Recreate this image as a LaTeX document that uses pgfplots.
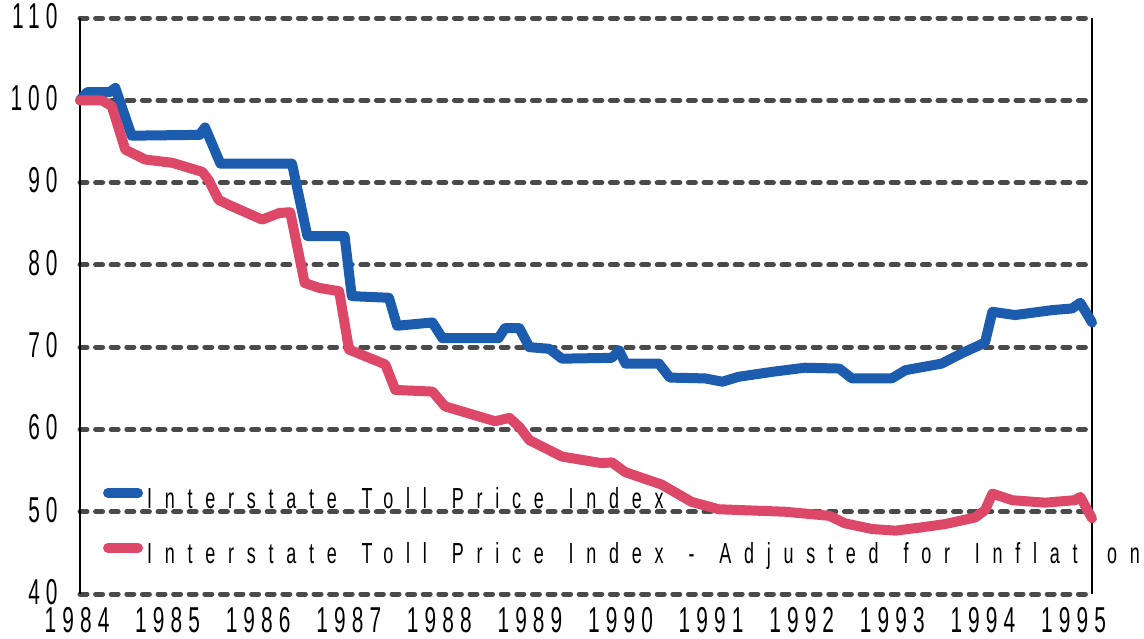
\documentclass[border=0pt]{standalone}
\usepackage{fontspec}
\setmainfont{Liberation Sans}
\usepackage{pgfplots}
\pgfplotsset{compat=1.18}

% narrow, widely tracked faces for the tick labels and the legend
\newfontfamily\tickfont[FakeStretch=0.58,LetterSpace=17]{Liberation Sans}
\newfontfamily\legfont[FakeStretch=0.62,LetterSpace=44,WordSpace=1.4]{Liberation Sans}

\definecolor{tollblue}{HTML}{1B5CAE}
\definecolor{tollred}{HTML}{DE4868}
\definecolor{gridgray}{HTML}{4A4A4A}

\begin{document}
\begin{tikzpicture}
\useasboundingbox (-40pt,-22pt) rectangle (532pt,297pt);
\begin{axis}[
  at={(0,0)}, anchor=south west,
  width=506pt, height=288pt, scale only axis,
  xmin=1984, xmax=1995.17, ymin=40, ymax=110,
  xtick={1984,...,1995}, ytick={40,50,...,110},
  xticklabel={\pgfmathprintnumber[1000 sep=]{\tick}},
  /pgf/number format/assume math mode=true,
  major tick length=0pt,
  separate axis lines,
  x axis line style={draw=none},
  y axis line style={black, line width=0.7pt},
  ymajorgrids,
  major grid style={gridgray, line width=2.5pt, line cap=round,
    dash pattern=on 3.5pt off 4.3pt},
  xticklabel style={font=\tickfont\fontsize{18}{18}\selectfont,
    anchor=north, inner sep=0pt, yshift=-6.5pt, xshift=-1.5pt},
  yticklabel style={font=\tickfont\fontsize{18}{18}\selectfont,
    anchor=east, inner sep=0pt, xshift=-11pt, yshift=1pt},
  clip=false,
  legend style={at={(axis cs:1984.25,53.0)}, anchor=north west,
    draw=none, fill=none, inner sep=0pt, row sep=14pt, column sep=2pt,
    font=\legfont\fontsize{14.5}{14.5}\selectfont,
    nodes={inner sep=0pt, text height=10.5pt, text depth=3pt}},
  legend cell align=left,
  legend image code/.code={%
    \draw[#1, line width=5pt, line cap=round, solid] (0pt,4pt) -- (15pt,4pt);},
  every axis plot/.append style={line width=5pt, line join=round, line cap=round},
]
\addplot[tollblue] coordinates {
(1984.00,100.0) (1984.08,101.0) (1984.33,101.0) (1984.39,101.5)
(1984.57,95.7) (1985.32,95.8) (1985.38,96.7) (1985.55,92.3)
(1986.34,92.3) (1986.51,83.5) (1986.92,83.5) (1987.00,76.2)
(1987.41,76.0) (1987.50,72.6) (1987.89,73.0) (1988.00,71.1)
(1988.62,71.1) (1988.69,72.3) (1988.85,72.3) (1988.96,70.0)
(1989.18,69.8) (1989.32,68.6) (1989.87,68.7) (1989.95,69.6)
(1990.02,68.0) (1990.39,68.0) (1990.51,66.3) (1990.90,66.2)
(1991.09,65.8) (1991.27,66.4) (1991.64,67.0) (1992.00,67.5)
(1992.38,67.4) (1992.52,66.2) (1992.96,66.2) (1993.11,67.2)
(1993.51,68.0) (1993.74,69.3) (1993.92,70.2) (1993.99,70.6)
(1994.07,74.3) (1994.32,73.9) (1994.73,74.5) (1994.95,74.7)
(1995.04,75.4) (1995.17,73.0)
};
\addlegendentry{Interstate Toll Price Index}
\addplot[tollred] coordinates {
(1984.00,100.0) (1984.24,100.0) (1984.35,99.3) (1984.50,94.0)
(1984.72,92.8) (1985.02,92.4) (1985.35,91.3) (1985.42,90.3)
(1985.53,87.9) (1985.64,87.3) (1986.01,85.5) (1986.20,86.3)
(1986.32,86.4) (1986.48,77.8) (1986.64,77.2) (1986.86,76.8)
(1986.97,69.7) (1987.37,67.9) (1987.48,64.8) (1987.89,64.6)
(1988.03,62.8) (1988.58,61.0) (1988.74,61.4) (1988.85,60.3)
(1988.96,58.7) (1989.32,56.7) (1989.76,55.9) (1989.87,56.0)
(1990.02,54.8) (1990.42,53.3) (1990.75,51.2) (1991.05,50.3)
(1991.53,50.1) (1991.78,50.0) (1992.27,49.5) (1992.44,48.6)
(1992.74,47.9) (1993.00,47.7) (1993.29,48.1) (1993.55,48.5)
(1993.88,49.3) (1993.99,50.2) (1994.07,52.2) (1994.29,51.4)
(1994.65,51.1) (1994.98,51.4) (1995.04,51.8) (1995.17,49.2)
};
\addlegendentry{Interstate Toll Price Index - Adjusted for Inflation}
\end{axis}
\end{tikzpicture}
\end{document}
